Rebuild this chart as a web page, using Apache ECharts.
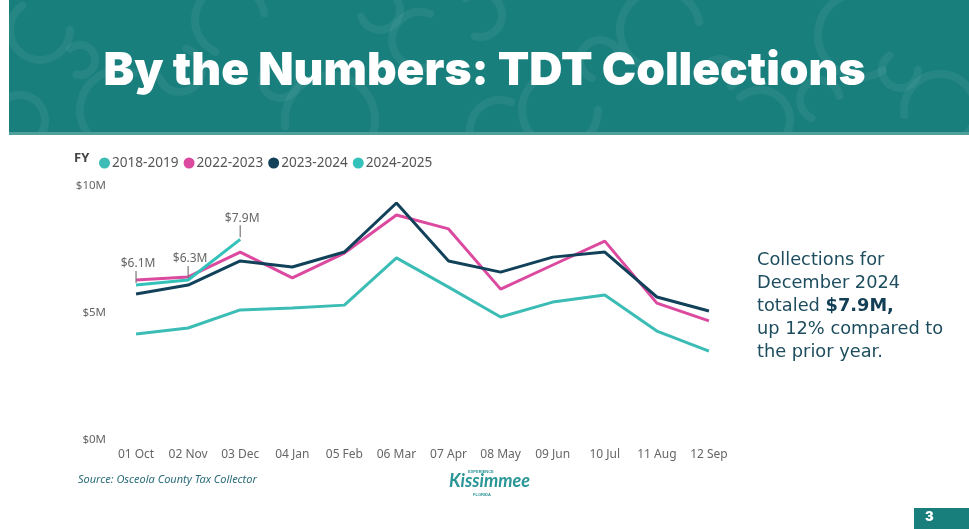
<!DOCTYPE html>
<html><head><meta charset="utf-8">
<script src="https://cdn.jsdelivr.net/npm/echarts@6/dist/echarts.min.js"></script>
<style>html,body{margin:0;padding:0;background:#fff}#c{width:969px;height:529px}</style>
</head><body><div id="c"></div>
<script>
const months = ['01 Oct','02 Nov','03 Dec','04 Jan','05 Feb','06 Mar','07 Apr','08 May','09 Jun','10 Jul','11 Aug','12 Sep'];
const fy1819 = [4.17,4.41,5.12,5.20,5.31,7.17,6.02,4.84,5.43,5.71,4.29,3.50];
const fy2223 = [6.30,6.42,7.40,6.38,7.36,8.86,8.31,5.94,6.89,7.83,5.39,4.69];
const fy2324 = [5.75,6.10,7.05,6.81,7.40,9.33,7.05,6.61,7.20,7.40,5.63,5.08];
const fy2425 = [6.1,6.3,7.9];
const yTicks = [0,5,10];

const chart = echarts.init(document.getElementById('c'));
const F = '"Noto Sans", "Open Sans", sans-serif';

// decorative header arcs
const deco = [];
const arcs = [[40,30,30,0],[120,110,40,1],[230,20,35,2],[330,120,45,3],[420,40,28,1],[560,110,38,0],[660,30,40,2],[760,120,30,4],[860,35,42,1],[940,110,36,3],[180,70,22,5],[600,60,20,2],[900,70,18,0],[20,120,25,3],[500,130,30,1],[80,60,15,4],[280,80,18,0],[380,10,20,5],[720,75,16,3],[820,100,20,2],[480,15,22,4]];
arcs.forEach(a=>deco.push({type:'arc',shape:{cx:a[0],cy:a[1],r:a[2],startAngle:a[3],endAngle:a[3]+Math.PI*1.3},style:{stroke:'rgba(255,255,255,0.06)',lineWidth:8,fill:null,lineCap:'round'}}));

chart.setOption({
  animation:false,
  textStyle:{fontFamily:F},
  graphic:[
    {type:'rect',shape:{x:9,y:0,width:960,height:134},style:{fill:'#187f7d'},z:0},
    {type:'group',children:deco,clipPath:{type:'rect',shape:{x:9,y:0,width:960,height:134}}},
    {type:'rect',shape:{x:9,y:132,width:960,height:3},style:{fill:'#4f9f9c'}},
    {type:'text',left:'center',top:48,style:{text:'By the Numbers: TDT Collections',fill:'#fff',font:'900 46px Inter, sans-serif'}},
    {type:'text',left:74,top:152,style:{text:'FY',fill:'#444',font:'bold 13px '+F}},
    {type:'text',left:757,top:249,style:{text:'Collections for\nDecember 2024\ntotaled {b|$7.9M,}\nup 12% compared to\nthe prior year.',fill:'#1d4d5e',font:'17.8px "DejaVu Sans", sans-serif',lineHeight:23,rich:{b:{font:'bold 17.8px "DejaVu Sans", sans-serif',fill:'#123f55'}}}},
    {type:'text',left:78,top:474,style:{text:'Source: Osceola County Tax Collector',fill:'#2b6d7a',font:'italic 11px '+F}},
    {type:'text',left:449,top:472,style:{text:'Kissimmee',fill:'#2a9596',font:'italic bold 18px Lato, sans-serif'}},
    {type:'text',left:468,top:470,style:{text:'EXPERIENCE',fill:'#2a9596',font:'bold 4px sans-serif'}},
    {type:'text',left:473,top:493,style:{text:'FLORIDA',fill:'#2a9596',font:'bold 4px sans-serif'}},
    {type:'rect',shape:{x:914,y:508,width:55,height:21},style:{fill:'#187f7d'}},
    {type:'text',left:925,top:511,style:{text:'3',fill:'#fff',font:'900 13px Inter, sans-serif'}}
  ],
  legend:{left:94,top:151,icon:'circle',itemWidth:11,itemHeight:11,itemGap:5,
    textStyle:{color:'#555',fontSize:13.6,fontFamily:F,padding:[0,0,0,-3]},
    data:['2018-2019','2022-2023','2023-2024','2024-2025']},
  grid:{left:110,right:234,top:186,bottom:89},
  xAxis:{type:'category',data:months,boundaryGap:true,axisLine:{show:false},axisTick:{show:false},
    axisLabel:{color:'#666',fontSize:12,margin:9,interval:0,fontFamily:F}},
  yAxis:{type:'value',min:0,max:10,interval:5,splitLine:{show:false},
    axisLabel:{color:'#666',fontSize:11.5,margin:4,fontFamily:F,formatter:v=>'$'+v+'M'}},
  series:[
    {name:'2018-2019',type:'line',data:fy1819,symbol:'none',lineStyle:{width:3,color:'#3bbdb5'},itemStyle:{color:'#3bbdb5'}},
    {name:'2022-2023',type:'line',data:fy2223,symbol:'none',lineStyle:{width:3,color:'#dc4aa0'},itemStyle:{color:'#dc4aa0'}},
    {name:'2023-2024',type:'line',data:fy2324,symbol:'none',lineStyle:{width:3,color:'#12415a'},itemStyle:{color:'#12415a'}},
    {name:'2024-2025',type:'line',data:fy2425,symbol:'none',lineStyle:{width:3,color:'#33c2b9'},itemStyle:{color:'#33c2b9'},z:5},
    {type:'custom',data:fy2425.map((v,i)=>[i,v]),silent:true,z:6,
      renderItem:(p,api)=>{
        const pt=api.coord([api.value(0),api.value(1)]);
        return {type:'group',children:[
          {type:'line',shape:{x1:pt[0],y1:pt[1]-2,x2:pt[0],y2:pt[1]-14},style:{stroke:'#777',lineWidth:1.2}},
          {type:'text',style:{text:'$'+api.value(1).toFixed(1)+'M',x:pt[0]+2,y:pt[1]-21,align:'center',verticalAlign:'middle',fill:'#666',font:'12px '+F}}
        ]};
      }}
  ]
});
</script></body></html>
